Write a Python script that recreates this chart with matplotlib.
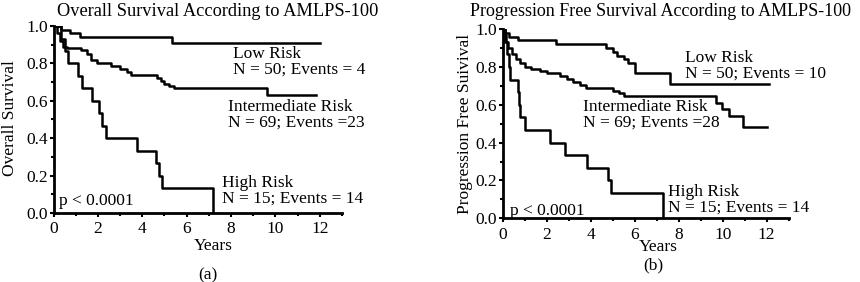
import matplotlib
matplotlib.use("Agg")
import matplotlib.pyplot as plt
from matplotlib.ticker import MultipleLocator

plt.rcParams['font.family'] = ['Liberation Serif', 'DejaVu Serif']

# ---- data (time in years, survival after each step) ----
# (a) overall survival
os_low_t = [0, 0.35, 0.75, 1.2, 5.35, 12.0]
os_low_s = [1.0, 0.98, 0.96, 0.94, 0.91, 0.91]
os_int_t = [0, 0.15, 0.3, 0.45, 0.6, 1.25, 1.5, 1.7, 1.95, 2.6, 3.0, 3.3, 3.5,
            4.65, 4.85, 5.0, 5.2, 5.45, 9.6, 11.85]
os_int_s = [1.0, 0.96, 0.92, 0.89, 0.88, 0.87, 0.85, 0.82, 0.80, 0.785, 0.77,
            0.755, 0.74, 0.72, 0.705, 0.69, 0.68, 0.67, 0.63, 0.63]
os_high_t = [0, 0.35, 0.5, 0.65, 1.1, 1.3, 1.75, 2.05, 2.2, 2.35, 3.75, 4.6,
             4.75, 4.9, 7.2]
os_high_s = [1.0, 0.933, 0.867, 0.80, 0.733, 0.667, 0.60, 0.533, 0.467, 0.40,
             0.333, 0.267, 0.20, 0.133, 0.0]

# (b) progression free survival
pfs_low_t = [0, 0.1, 0.3, 0.7, 2.4, 4.7, 5.0, 5.2, 5.5, 5.7, 6.0, 7.6, 12.1]
pfs_low_s = [1.0, 0.98, 0.96, 0.94, 0.92, 0.90, 0.88, 0.86, 0.84, 0.82, 0.77,
             0.71, 0.71]
pfs_int_t = [0, 0.05, 0.15, 0.25, 0.4, 0.6, 0.8, 1.0, 1.3, 1.7, 2.0, 2.6, 2.9,
             3.2, 3.5, 3.8, 5.0, 5.3, 5.5, 9.7, 9.95, 10.3, 10.9, 12.0]
pfs_int_s = [1.0, 0.97, 0.93, 0.90, 0.87, 0.84, 0.82, 0.80, 0.79, 0.78, 0.765,
             0.75, 0.735, 0.72, 0.705, 0.69, 0.675, 0.66, 0.645, 0.61, 0.58,
             0.54, 0.48, 0.48]
pfs_high_t = [0, 0.1, 0.2, 0.3, 0.33, 0.7, 0.75, 0.8, 1.0, 2.15, 2.85, 3.85,
              4.8, 4.9, 7.3]
pfs_high_s = [1.0, 0.933, 0.867, 0.80, 0.733, 0.667, 0.60, 0.533, 0.467, 0.40,
              0.333, 0.267, 0.20, 0.133, 0.0]

titles = ["Overall Survival According to AMLPS-100",
          "Progression Free Survival According to AMLPS-100"]
ylabels = ["Overall Survival", "Progression Free Suivival"]
panel_tags = ["(a)", "(b)"]
os_notes = ["Low Risk\nN = 50; Events = 4",
            "Intermediate Risk\nN = 69; Events =23",
            "High Risk\nN = 15; Events = 14"]
pfs_notes = ["Low Risk\nN = 50; Events = 10",
             "Intermediate Risk\nN = 69; Events =28",
             "High Risk\nN = 15; Events = 14"]

W, H = 860, 282
fig = plt.figure(figsize=(W / 100, H / 100), dpi=100)


def px(x, y):
    # pixel position (from top-left) -> figure fraction
    return x / W, 1 - y / H


def make_axes(left, top, right, bottom):
    l, t = px(left, top)
    r, b = px(right, bottom)
    return fig.add_axes([l, b, r - l, t - b])


ax_a = make_axes(53.5, 26, 342, 213)
ax_b = make_axes(502.7, 29, 788.7, 218.3)

curves = [
    [(os_low_t, os_low_s), (os_int_t, os_int_s), (os_high_t, os_high_s)],
    [(pfs_low_t, pfs_low_s), (pfs_int_t, pfs_int_s), (pfs_high_t, pfs_high_s)],
]

for ax, cset in zip([ax_a, ax_b], curves):
    for t, s in cset:
        ax.step(t, s, where='post', color='black', lw=1.8)
    ax.set_xlim(0, 13)
    ax.set_ylim(0, 1.0)
    ax.xaxis.set_major_locator(MultipleLocator(2))
    ax.xaxis.set_minor_locator(MultipleLocator(1))
    ax.yaxis.set_major_locator(MultipleLocator(0.2))
    ax.yaxis.set_minor_locator(MultipleLocator(0.1))
    ax.xaxis.set_major_formatter(plt.FuncFormatter(lambda v, p: f"{v:.0f}"))
    ax.yaxis.set_major_formatter(plt.FuncFormatter(lambda v, p: f"{v:.1f}"))
    for side in ['top', 'right']:
        ax.spines[side].set_visible(False)
    for side in ['left', 'bottom']:
        ax.spines[side].set_linewidth(2.0)
    ax.tick_params(which='both', direction='out', width=1.5, length=3,
                   labelsize=12.5, pad=1)
    ax.tick_params(axis='x', which='major', pad=3)
    ax.tick_params(which='minor', length=2)
    ax.patch.set_alpha(0)

# titles, axis labels, panel tags
fig.text(*px(57, 11), titles[0], fontsize=13.2, va='center', ha='left')
fig.text(*px(470, 12), titles[1], fontsize=13.0, va='center', ha='left')
fig.text(*px(213, 246), "Years", fontsize=12.5, va='center', ha='center')
fig.text(*px(658, 247), "Years", fontsize=12.5, va='center', ha='center')
fig.text(*px(10, 118), ylabels[0], fontsize=12.5, va='center', ha='center',
         rotation=90)
fig.text(*px(465, 124), ylabels[1], fontsize=12.5, va='center', ha='center',
         rotation=90)
fig.text(*px(208, 275), panel_tags[0], fontsize=12.5, va='center', ha='center')
fig.text(*px(653, 265), panel_tags[1], fontsize=12.5, va='center', ha='center')

# group annotations
for (x, y), note in zip([(233, 62), (228, 115), (222, 191)], os_notes):
    fig.text(*px(x, y), note, fontsize=12.5, va='center', ha='left',
             linespacing=0.95)
for (x, y), note in zip([(685, 66), (583, 115), (668, 200)], pfs_notes):
    fig.text(*px(x, y), note, fontsize=12.5, va='center', ha='left',
             linespacing=0.95)
fig.text(*px(59, 201), "p < 0.0001", fontsize=12.5, va='center', ha='left')
fig.text(*px(510, 211), "p < 0.0001", fontsize=12.5, va='center', ha='left')

fig.savefig("out.png", dpi=100, facecolor='white')
